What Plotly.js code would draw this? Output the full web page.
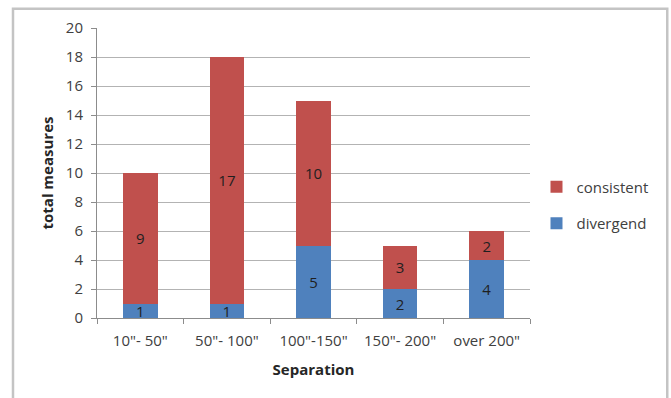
<!DOCTYPE html>
<html>
<head>
<meta charset="utf-8">
<script src="https://cdn.plot.ly/plotly-3.0.1.min.js"></script>
<style>
  html, body { margin: 0; padding: 0; background: #fff; }
  #chart { width: 671px; height: 398px; }
</style>
</head>
<body>
<div id="chart"></div>
<script>
// Separation ranges and measure counts per group
const categories = ['10"- 50"', '50"- 100"', '100"-150"', '150"- 200"', 'over 200"'];
const divergend = [1, 1, 5, 2, 4];
const consistent = [9, 17, 10, 3, 2];
const yTicks = [0, 2, 4, 6, 8, 10, 12, 14, 16, 18, 20];

const fontFamily = '"Open Sans", "Liberation Sans", sans-serif';
const labelFont = { family: fontFamily, size: 15, color: '#1f1f1f' };

const traces = [
  {
    type: 'bar',
    name: 'divergend',
    legendgroup: 'div',
    legendrank: 2,
    x: categories,
    y: divergend,
    text: divergend.map(String),
    textposition: 'inside',
    insidetextanchor: 'middle',
    textangle: 0,
    textfont: labelFont,
    marker: { color: '#4F81BD' },
    hoverinfo: 'x+y+name'
  },
  {
    type: 'bar',
    name: 'consistent',
    legendgroup: 'con',
    legendrank: 1,
    x: categories,
    y: consistent,
    text: consistent.map(String),
    textposition: 'inside',
    insidetextanchor: 'middle',
    textangle: 0,
    textfont: labelFont,
    marker: { color: '#C0504D' },
    hoverinfo: 'x+y+name'
  }
];

const layout = {
  width: 671,
  height: 398,
  margin: { l: 97, r: 141, t: 28, b: 80 },
  paper_bgcolor: '#ffffff',
  plot_bgcolor: '#ffffff',
  barmode: 'stack',
  bargap: 0.6,
  uniformtext: { mode: 'show', minsize: 15 },
  font: { family: fontFamily, size: 15, color: '#404040' },
  showlegend: true,
  legend: {
    x: 1.015, y: 0.39, xanchor: 'left', yanchor: 'middle',
    traceorder: 'grouped',
    font: { family: fontFamily, size: 15, color: '#404040' },
    itemwidth: 30,
    tracegroupgap: 14
  },
  xaxis: {
    type: 'category',
    showline: true,
    linecolor: '#8c8c8c',
    linewidth: 1,
    ticks: 'outside',
    tickson: 'boundaries',
    ticklen: 5,
    tickcolor: '#8c8c8c',
    ticklabelstandoff: 9,
    tickfont: { family: fontFamily, size: 15, color: '#404040' },
    title: { text: 'Separation', font: { family: fontFamily, size: 15, color: '#262626', weight: 'bold' }, standoff: 15 }
  },
  yaxis: {
    range: [0, 20],
    tickvals: yTicks,
    ticktext: yTicks.map(String),
    showline: true,
    linecolor: '#8c8c8c',
    linewidth: 1,
    ticks: 'outside',
    ticklen: 5,
    tickcolor: '#8c8c8c',
    ticklabelstandoff: 5,
    showgrid: true,
    gridcolor: '#b3b3b3',
    gridwidth: 1,
    zeroline: false,
    tickfont: { family: fontFamily, size: 15, color: '#404040' },
    title: { text: 'total measures', font: { family: fontFamily, size: 15, color: '#262626', weight: 'bold' }, standoff: 8 }
  },
  shapes: [
    {
      type: 'rect', xref: 'paper', yref: 'paper', layer: 'below',
      x0: -0.194, x1: 1.317, y0: -0.3, y1: 1.066,
      line: { color: '#c4c4c4', width: 2.5 },
      fillcolor: 'rgba(0,0,0,0)'
    }
  ]
};

Plotly.newPlot('chart', traces, layout, { displayModeBar: false, staticPlot: true });
</script>
</body>
</html>
